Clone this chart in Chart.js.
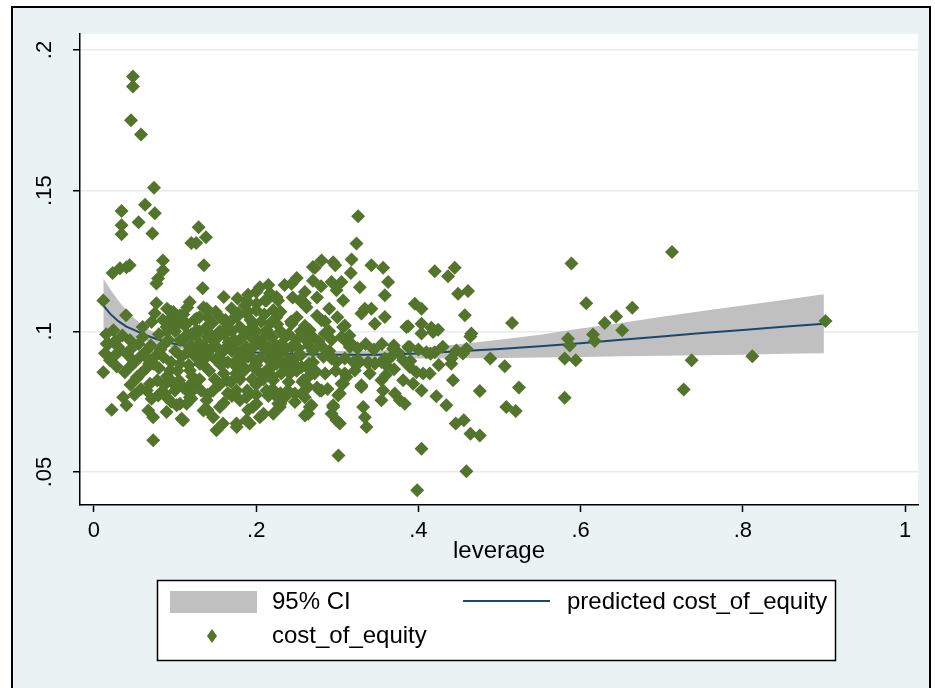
<!DOCTYPE html>
<html>
<head>
<meta charset="utf-8">
<script src="https://cdn.jsdelivr.net/npm/chart.js@4/dist/chart.umd.min.js"></script>
<style>
  html, body { margin: 0; padding: 0; background: #ffffff; }
  canvas { display: block; }
</style>
</head>
<body>
<canvas id="chart" width="935" height="688"></canvas>
<script>
// Observed firms: leverage and cost of equity
const leverage = [
  0.048, 0.048, 0.0456, 0.058, 0.074, 0.063, 0.034, 0.075, 0.055, 0.034, 0.034, 0.072, 0.129, 0.138, 0.120, 0.126,
  0.1355, 0.085, 0.085, 0.079, 0.077, 0.023, 0.032, 0.040, 0.044, 0.134, 0.160, 0.2045, 0.0115, 0.118, 0.077, 0.075,
  0.071, 0.060, 0.0395, 0.098, 0.102, 0.1265, 0.139, 0.140, 0.177, 0.188, 0.217, 0.094, 0.106,
  0.024, 0.018, 0.0135, 0.0197, 0.030, 0.0115, 0.040, 0.044, 0.053, 0.048, 0.036, 0.040, 0.0218, 0.065, 0.071, 0.073,
  0.067, 0.073, 0.0895, 0.110, 0.0895, 0.106, 0.118, 0.151, 0.159, 0.176, 0.192, 0.135, 0.147, 0.196, 0.209, 0.262,
  0.266, 0.270, 0.0526, 0.069, 0.0792, 0.0875, 0.108, 0.1019, 0.1142, 0.1757, 0.188, 0.2045, 0.221, 0.2292, 0.0156,
  0.0238, 0.032, 0.0444, 0.0484, 0.0567, 0.0649, 0.0731, 0.0854, 0.0937, 0.106, 0.1183, 0.1306, 0.1389, 0.0813, 0.0977,
  0.1183, 0.1265, 0.1389, 0.147, 0.1553, 0.1635, 0.1757, 0.188, 0.2004, 0.2127, 0.221, 0.106, 0.1183, 0.1306, 0.147,
  0.1593, 0.1716, 0.188, 0.2045, 0.2168, 0.1553, 0.1757, 0.1962, 0.2127, 0.2251,
  0.1553, 0.1696, 0.1861, 0.2004, 0.2127, 0.2251, 0.1635, 0.1799, 0.1962, 0.2168, 0.2251, 0.1142, 0.1265, 0.0895,
  0.0977, 0.176, 0.188, 0.200, 0.211, 0.221,
  0.12, 0.14, 0.16, 0.18, 0.20, 0.22, 0.24, 0.145, 0.17, 0.19, 0.21, 0.23, 0.25, 0.27, 0.15, 0.175, 0.20, 0.22, 0.24,
  0.16, 0.18, 0.20, 0.13, 0.11, 0.12, 0.14, 0.17, 0.19, 0.23, 0.25, 0.27, 0.28, 0.29, 0.10, 0.11, 0.09, 0.085, 0.095,
  0.09, 0.10, 0.095, 0.125, 0.135, 0.155, 0.165, 0.185, 0.195, 0.205, 0.215, 0.235, 0.245, 0.255, 0.265, 0.275, 0.285,
  0.29, 0.06, 0.07, 0.08, 0.085, 0.09, 0.075, 0.08, 0.065, 0.058, 0.087, 0.10, 0.105, 0.11, 0.115, 0.12, 0.13, 0.135,
  0.14, 0.15, 0.155, 0.16, 0.165, 0.17, 0.175, 0.18, 0.19, 0.195, 0.21, 0.215, 0.225, 0.23, 0.24, 0.25, 0.26, 0.27,
  0.235, 0.25, 0.27, 0.28, 0.20, 0.215, 0.19, 0.245, 0.26, 0.275, 0.29, 0.30, 0.285, 0.275,
  0.3257, 0.3237, 0.3176, 0.3167, 0.2806, 0.2949, 0.2724, 0.2975, 0.342, 0.3565, 0.3627, 0.3586, 0.3278, 0.2929,
  0.3052, 0.299, 0.3072, 0.2436, 0.260, 0.2538, 0.262, 0.227, 0.4202, 0.4448, 0.4366, 0.4489, 0.4612, 0.4572, 0.3956,
  0.4038, 0.3339, 0.342, 0.3298, 0.3586, 0.3463, 0.3093, 0.2806, 0.2436, 0.3873, 0.4038, 0.416, 0.4243, 0.4653,
  0.5887, 0.607, 0.6297, 0.6439, 0.5845, 0.5866, 0.6153, 0.6174, 0.5804, 0.594, 0.5804, 0.5155, 0.464, 0.4886, 0.5065,
  0.524, 0.4757, 0.5084, 0.520, 0.446, 0.456, 0.4642, 0.4757, 0.4592, 0.3985, 0.4038, 0.3014, 0.4406, 0.4468, 0.455,
  0.4592, 0.4427, 0.4221, 0.4345, 0.4098, 0.4202, 0.3852, 0.3873, 0.3697, 0.3812, 0.3894, 0.3976, 0.4058, 0.414, 0.3812,
  0.3935, 0.4038, 0.3709, 0.3771, 0.3832, 0.3544, 0.3565, 0.3544, 0.3298, 0.3319, 0.3339, 0.336, 0.2949, 0.2929, 0.299,
  0.3031, 0.260, 0.3072, 0.3093, 0.3155, 0.2929, 0.299, 0.3278, 0.338, 0.3463, 0.3544, 0.3606, 0.3216, 0.3688, 0.3093,
  0.3072, 0.3031, 0.262, 0.258, 0.2704, 0.2785,
  0.3298, 0.2641, 0.2682, 0.2477, 0.2559, 0.2299, 0.2258, 0.2949, 0.301, 0.3052, 0.3114, 0.3894, 0.4406, 0.2929, 0.3093,
  0.3257, 0.338, 0.3463, 0.3586, 0.2313, 0.2436, 0.2313, 0.2415, 0.2559, 0.2641, 0.2724, 0.2806, 0.2477, 0.2354, 0.2272,
  0.2641, 0.260, 0.2641, 0.2847, 0.3052, 0.3176, 0.4038, 0.418,
  0.7127, 0.6638, 0.6513, 0.7369, 0.7271, 0.8117, 0.902,
  0.092, 0.097, 0.103, 0.108, 0.112, 0.117, 0.121, 0.124, 0.128, 0.132, 0.137, 0.142, 0.146, 0.149, 0.153, 0.157,
  0.162, 0.166, 0.169, 0.173, 0.178, 0.182, 0.186, 0.189, 0.193, 0.197, 0.202, 0.206, 0.209, 0.213, 0.218, 0.222,
  0.226, 0.231, 0.236, 0.239, 0.243, 0.248, 0.252, 0.257, 0.261, 0.266, 0.272, 0.277, 0.283, 0.288, 0.293, 0.298,
  0.115, 0.125, 0.135, 0.145, 0.155, 0.165, 0.175, 0.185, 0.195, 0.205, 0.215, 0.225, 0.235, 0.245, 0.255, 0.265,
  0.16, 0.18, 0.20, 0.22, 0.14, 0.12, 0.105, 0.13, 0.15, 0.17, 0.19, 0.21, 0.23, 0.25, 0.10, 0.095, 0.115, 0.135,
  0.015, 0.026, 0.035, 0.045, 0.055, 0.062, 0.068, 0.028, 0.038, 0.058, 0.050, 0.045, 0.078, 0.082,
  0.315, 0.325, 0.335, 0.345, 0.355, 0.365, 0.375, 0.320, 0.340, 0.360, 0.370, 0.390, 0.400, 0.415, 0.425, 0.430
];
const costOfEquity = [
  0.1906, 0.1870, 0.1750, 0.1700, 0.1510, 0.1450, 0.1428, 0.1420, 0.1388, 0.1377, 0.1345, 0.1348, 0.1370, 0.1334, 0.1314, 0.1314,
  0.1235, 0.1252, 0.1217, 0.1188, 0.1170, 0.1207, 0.1224, 0.1228, 0.1235, 0.1153, 0.1122, 0.1157, 0.1110, 0.1104, 0.1100, 0.1064,
  0.1033, 0.1015, 0.1057, 0.1069, 0.1040, 0.1046, 0.1080, 0.1050, 0.1117, 0.1110, 0.1135, 0.1045, 0.1057,
  0.1004, 0.0956, 0.0922, 0.0897, 0.0944, 0.0855, 0.0921, 0.0873, 0.0838, 0.0897, 0.0766, 0.0737, 0.0721, 0.0790, 0.0760, 0.0613,
  0.0719, 0.0695, 0.0713, 0.0684, 0.0766, 0.0743, 0.0779, 0.0648, 0.0672, 0.0660, 0.0672, 0.0719, 0.0695, 0.0731, 0.0707, 0.0707,
  0.0731, 0.1229, 0.0832, 0.0814, 0.0772, 0.0779, 0.0689, 0.0737, 0.0743, 0.0672, 0.0684, 0.0695, 0.0707, 0.0731, 0.0956,
  0.0909, 0.0932, 0.0968, 0.0885, 0.0909, 0.0932, 0.0885, 0.0909, 0.0861, 0.0885, 0.0861, 0.0885, 0.0909, 0.0779, 0.0814,
  0.0766, 0.0802, 0.0755, 0.0790, 0.0731, 0.0826, 0.0790, 0.0766, 0.0743, 0.0790, 0.0826, 0.0968, 0.0944, 0.0956, 0.0968,
  0.0932, 0.0956, 0.0944, 0.0956, 0.0921, 0.0885, 0.0873, 0.0873, 0.0861, 0.0897,
  0.1051, 0.1081, 0.1092, 0.1098, 0.1110, 0.1122, 0.1027, 0.1015, 0.1027, 0.1027, 0.1051, 0.1027, 0.1004, 0.1015,
  0.1027, 0.1051, 0.1063, 0.1075, 0.1110, 0.1075,
  0.099, 0.098, 0.099, 0.097, 0.100, 0.098, 0.099, 0.094, 0.093, 0.091, 0.094, 0.092, 0.091, 0.093, 0.090, 0.0895, 0.088, 0.084, 0.082,
  0.085, 0.083, 0.081, 0.083, 0.080, 0.076, 0.072, 0.077, 0.072, 0.078, 0.086, 0.089, 0.095, 0.100, 0.093, 0.097, 0.100, 0.095, 0.089,
  0.084, 0.079, 0.075, 0.091, 0.088, 0.081, 0.078, 0.086, 0.094, 0.085, 0.077, 0.088, 0.095, 0.100, 0.095, 0.080, 0.085,
  0.093, 0.098, 0.095, 0.099, 0.104, 0.108, 0.091, 0.087, 0.087, 0.085, 0.081, 0.100, 0.103, 0.106, 0.099, 0.095, 0.100, 0.095,
  0.092, 0.097, 0.100, 0.093, 0.089, 0.100, 0.085, 0.092, 0.100, 0.083, 0.098, 0.090, 0.095, 0.100, 0.090, 0.097, 0.102, 0.098,
  0.1165, 0.119, 0.118, 0.116, 0.114, 0.1165, 0.113, 0.112, 0.110, 0.112, 0.108, 0.105, 0.1035, 0.1055,
  0.1409, 0.1312, 0.1255, 0.1207, 0.1252, 0.1246, 0.1226, 0.1235, 0.1235, 0.1226, 0.1175, 0.1128, 0.1157, 0.1175,
  0.1175, 0.1146, 0.1110, 0.1169, 0.1140, 0.1110, 0.1086, 0.1110, 0.1214, 0.1226, 0.1196, 0.1134, 0.1143, 0.1057, 0.1098,
  0.1080, 0.1080, 0.1080, 0.1063, 0.1051, 0.1027, 0.1021, 0.1039, 0.1027, 0.1018, 0.1027, 0.1013, 0.1006, 0.0992,
  0.1241, 0.1100, 0.1030, 0.1053, 0.0974, 0.0950, 0.0989, 0.0966, 0.0903, 0.0897, 0.0764, 0.1030, 0.0982, 0.0903, 0.0876,
  0.0800, 0.0788, 0.0731, 0.0717, 0.0672, 0.0684, 0.0636, 0.0630, 0.0503, 0.0435, 0.0583, 0.0559, 0.0903, 0.0932, 0.0921,
  0.0938, 0.0826, 0.0769, 0.0737, 0.0926, 0.0926, 0.1015, 0.0944, 0.0950, 0.0897, 0.0873, 0.0855, 0.0850, 0.0850, 0.0826,
  0.0814, 0.0790, 0.0779, 0.0755, 0.0743, 0.0826, 0.0790, 0.0755, 0.0808, 0.0731, 0.0695, 0.0660, 0.0731, 0.0707, 0.0684,
  0.0672, 0.0701, 0.1015, 0.0968, 0.0944, 0.0909, 0.0891, 0.0891, 0.0887, 0.0887, 0.0891, 0.0879, 0.0861, 0.0938, 0.0850,
  0.0814, 0.0779, 0.0873, 0.0826, 0.0861, 0.0790,
  0.0802, 0.0707, 0.0737, 0.0749, 0.0779, 0.0743, 0.0766, 0.0737, 0.0773, 0.0814, 0.0838, 0.0944, 0.0885, 0.0903, 0.0903,
  0.0897, 0.0891, 0.0885, 0.0903, 0.0956, 0.0944, 0.0885, 0.0850, 0.0873, 0.0838, 0.0861, 0.0790, 0.0779, 0.0766, 0.0743,
  0.0802, 0.0766, 0.0993, 0.0992, 0.0980, 0.0956, 0.0992, 0.0998,
  0.1282, 0.1084, 0.1004, 0.0897, 0.0793, 0.0911, 0.1037,
  0.0970, 0.0820, 0.0860, 0.0910, 0.1020, 0.0880, 0.0840, 0.1040, 0.0930, 0.0790, 0.1010, 0.0860, 0.1030, 0.0830, 0.0940, 0.0880,
  0.1040, 0.0960, 0.0820, 0.0970, 0.1065, 0.0880, 0.0995, 0.0790, 0.1040, 0.0900, 0.0960, 0.1035, 0.0830, 0.1005, 0.0870, 0.0920,
  0.1025, 0.0850, 0.0980, 0.0790, 0.1035, 0.0880, 0.0940, 0.0820, 0.0970, 0.1005, 0.0850, 0.0965, 0.0910, 0.0795, 0.0970, 0.0860,
  0.0925, 0.0985, 0.0905, 0.0985, 0.0905, 0.1015, 0.0935, 0.0905, 0.0975, 0.0905, 0.0945, 0.0885, 0.0935, 0.0865, 0.0915, 0.0885,
  0.0745, 0.0755, 0.0775, 0.0795, 0.0775, 0.0815, 0.0825, 0.1050, 0.1070, 0.1040, 0.1070, 0.1060, 0.1070, 0.1050, 0.1040, 0.1070, 0.1085, 0.1085,
  0.0990, 0.0965, 0.0985, 0.0935, 0.0955, 0.0915, 0.0885, 0.0875, 0.0855, 0.0795, 0.0775, 0.0810, 0.0825, 0.0935,
  0.0985, 0.0940, 0.0955, 0.0935, 0.0955, 0.0905, 0.0925, 0.0890, 0.0850, 0.0845, 0.0865, 0.0895, 0.0935, 0.0920, 0.0880, 0.0945
];

// Fitted cost of equity with its 95% confidence band
const fitLeverage  = [0.0115, 0.02, 0.03, 0.04, 0.05, 0.06, 0.07, 0.08, 0.09, 0.10, 0.12, 0.15, 0.20, 0.25, 0.30, 0.35, 0.40, 0.45, 0.50, 0.55, 0.60, 0.65, 0.70, 0.75, 0.80, 0.85, 0.90];
const fitPredicted = [0.1092, 0.1062, 0.1036, 0.1017, 0.1004, 0.0991, 0.0980, 0.0970, 0.0962, 0.0955, 0.0945, 0.0935, 0.0925, 0.0919, 0.0917, 0.0917, 0.0921, 0.0929, 0.0937, 0.0947, 0.0958, 0.0970, 0.0982, 0.0994, 0.1005, 0.1016, 0.1027];
const ciUpper      = [0.1188, 0.1150, 0.1110, 0.1073, 0.1046, 0.1022, 0.1003, 0.0990, 0.0980, 0.0972, 0.0960, 0.0948, 0.0937, 0.0931, 0.0930, 0.0932, 0.0940, 0.0954, 0.0970, 0.0988, 0.1010, 0.1030, 0.1052, 0.1072, 0.1092, 0.1111, 0.1132];
const ciLower      = [0.1010, 0.1003, 0.0992, 0.0982, 0.0975, 0.0968, 0.0960, 0.0953, 0.0945, 0.0939, 0.0931, 0.0922, 0.0913, 0.0907, 0.0904, 0.0903, 0.0903, 0.0904, 0.0905, 0.0907, 0.0909, 0.0911, 0.0913, 0.0915, 0.0917, 0.0920, 0.0922];

// Axes
const xTicks = [0, 0.2, 0.4, 0.6, 0.8, 1];
const xTickLabels = ['0', '.2', '.4', '.6', '.8', '1'];
const yTicks = [0.05, 0.1, 0.15, 0.2];
const yTickLabels = ['.05', '.1', '.15', '.2'];
const legendLabels = ['95% CI', 'predicted cost_of_equity', 'cost_of_equity'];

const FONT = '"Liberation Sans", Arial, sans-serif';
const GREEN = '#52752b';
const NAVY = '#1a476f';
const BAND = '#c0c0c0';

const pts = (xs, ys) => xs.map((x, i) => ({ x: x, y: ys[i] }));

// Frame, region background and white plot area
const backdrop = {
  id: 'backdrop',
  beforeDraw(chart) {
    const ctx = chart.ctx, a = chart.chartArea;
    ctx.save();
    ctx.fillStyle = '#ffffff';
    ctx.fillRect(0, 0, chart.width, chart.height);
    ctx.fillStyle = '#eaf2f3';
    ctx.fillRect(12, 7, 918, 700);
    ctx.strokeStyle = '#000000';
    ctx.lineWidth = 2;
    ctx.strokeRect(12, 7, 918, 700);
    ctx.fillStyle = '#ffffff';
    ctx.fillRect(a.left, a.top, a.right - a.left, a.bottom - a.top);
    ctx.restore();
  }
};

// Vertical tick labels on the y axis
const yLabels = {
  id: 'yLabels',
  afterDraw(chart) {
    const ctx = chart.ctx, y = chart.scales.y;
    ctx.save();
    ctx.fillStyle = '#000000';
    ctx.font = '22px ' + FONT;
    ctx.textAlign = 'center';
    ctx.textBaseline = 'middle';
    yTicks.forEach((v, i) => {
      const py = y.getPixelForValue(v);
      ctx.save();
      ctx.translate(45, py);
      ctx.rotate(-Math.PI / 2);
      ctx.fillText(yTickLabels[i], 0, 0);
      ctx.restore();
    });
    ctx.restore();
  }
};

// Boxed legend below the axis title
const boxLegend = {
  id: 'boxLegend',
  afterDraw(chart) {
    const ctx = chart.ctx;
    ctx.save();
    ctx.fillStyle = '#ffffff';
    ctx.fillRect(157, 580, 678, 80);
    ctx.strokeStyle = '#000000';
    ctx.lineWidth = 1.5;
    ctx.strokeRect(157.5, 580.5, 678, 80);

    ctx.fillStyle = BAND;
    ctx.fillRect(170, 591, 87, 22);

    ctx.strokeStyle = NAVY;
    ctx.lineWidth = 2;
    ctx.beginPath();
    ctx.moveTo(463, 601);
    ctx.lineTo(550, 601);
    ctx.stroke();

    ctx.fillStyle = GREEN;
    ctx.beginPath();
    ctx.moveTo(212, 629);
    ctx.lineTo(217, 636);
    ctx.lineTo(212, 643);
    ctx.lineTo(207, 636);
    ctx.closePath();
    ctx.fill();

    ctx.fillStyle = '#000000';
    ctx.font = '24px ' + FONT;
    ctx.textAlign = 'left';
    ctx.textBaseline = 'middle';
    ctx.fillText(legendLabels[0], 272, 602);
    ctx.fillText(legendLabels[1], 567, 602);
    ctx.fillText(legendLabels[2], 272, 636);
    ctx.restore();
  }
};

new Chart(document.getElementById('chart'), {
  type: 'scatter',
  data: {
    datasets: [
      {
        label: 'cost_of_equity',
        data: pts(leverage, costOfEquity),
        pointStyle: 'rectRot',
        pointRadius: 7,
        backgroundColor: GREEN,
        borderColor: GREEN,
        borderWidth: 0,
        order: 0
      },
      {
        type: 'line',
        label: 'predicted cost_of_equity',
        data: pts(fitLeverage, fitPredicted),
        borderColor: NAVY,
        borderWidth: 2,
        pointRadius: 0,
        tension: 0,
        fill: false,
        order: 1
      },
      {
        type: 'line',
        label: '95% CI',
        data: pts(fitLeverage, ciUpper),
        borderWidth: 0,
        borderColor: 'rgba(0,0,0,0)',
        backgroundColor: BAND,
        pointRadius: 0,
        tension: 0,
        fill: '+1',
        order: 2
      },
      {
        type: 'line',
        label: 'lower',
        data: pts(fitLeverage, ciLower),
        borderWidth: 0,
        borderColor: 'rgba(0,0,0,0)',
        pointRadius: 0,
        tension: 0,
        fill: false,
        order: 3
      }
    ]
  },
  options: {
    responsive: false,
    animation: false,
    layout: { padding: { left: 0, right: 17, top: 34, bottom: 122 } },
    plugins: { legend: { display: false }, tooltip: { enabled: false } },
    scales: {
      x: {
        type: 'linear',
        min: -0.01725,
        max: 1.01602,
        afterBuildTicks: s => { s.ticks = xTicks.map(v => ({ value: v })); },
        afterFit: s => { s.height = 61; },
        ticks: {
          autoSkip: false,
          maxRotation: 0,
          padding: 6,
          color: '#000000',
          font: { family: FONT, size: 22 },
          callback: (v, i) => xTickLabels[i]
        },
        grid: { drawOnChartArea: false, drawTicks: true, tickLength: 7, tickColor: '#000000', tickWidth: 1.5 },
        border: { color: '#000000', width: 1.5 },
        title: { display: true, text: 'leverage', color: '#000000', font: { family: FONT, size: 24 }, padding: 0 }
      },
      y: {
        type: 'linear',
        min: 0.03827,
        max: 0.20569,
        afterBuildTicks: s => { s.ticks = yTicks.map(v => ({ value: v })); },
        afterFit: s => { s.width = 80; },
        ticks: { display: false },
        grid: { color: '#e3ecef', lineWidth: 1.5, drawTicks: true, tickLength: 7, tickColor: '#000000', tickWidth: 1.5 },
        border: { color: '#000000', width: 1.5 }
      }
    }
  },
  plugins: [backdrop, yLabels, boxLegend]
});
</script>
</body>
</html>
